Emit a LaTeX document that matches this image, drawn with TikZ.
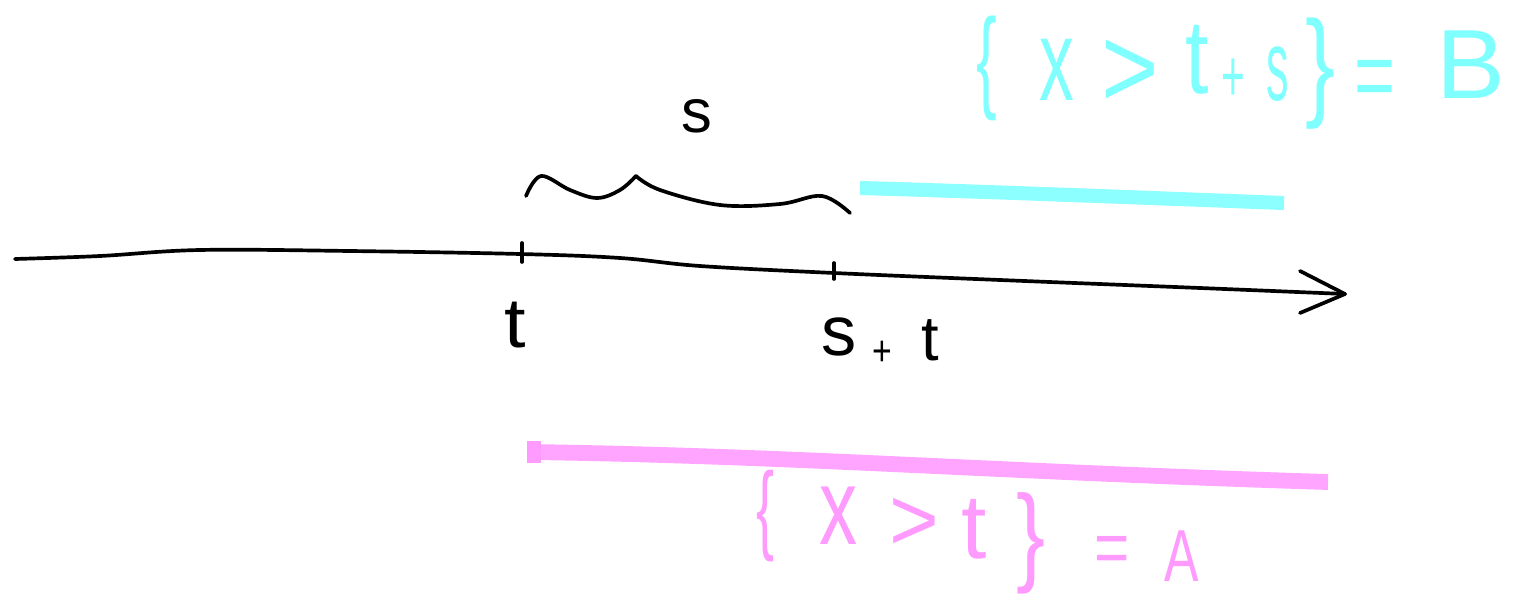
\documentclass[tikz,border=0pt]{standalone}
\usepackage{fontspec}
\setmainfont{Liberation Sans}
\definecolor{hcyan}{RGB}{128,255,255}
\definecolor{hmag}{RGB}{255,155,255}
\newcommand{\hwg}[3]{{\fontspec{Liberation Sans}[FakeStretch=#1]\fontsize{#2}{#2}\selectfont #3}}
\tikzset{
  pen/.style={line width=2.1pt, line cap=round, line join=round, black},
  glyph/.style={inner sep=0pt, anchor=center},
  cyantext/.style={glyph, text=hcyan},
  magtext/.style={glyph, text=hmag},
  blacktext/.style={glyph, text=black},
  hilite/.style={line width=#1, line cap=butt, opacity=0.9}
}
\begin{document}
\begin{tikzpicture}[x=0.02cm, y=-0.02cm]
\useasboundingbox (0,0) rectangle (1519,598);
% highlight bars
\draw[hilite=9pt, hmag] (530,452) .. controls (800,456) and (1000,472) .. (1328,482);
\fill[hmag] (527,441) rectangle (541,463);
\draw[hilite=8pt, hcyan] (860,188) .. controls (1000,192) and (1150,198) .. (1284,203);
% axis
\coordinate (a0) at (15,259);
\coordinate (tipA) at (1345,294);
\draw[pen] plot[smooth, tension=0.6] coordinates {(15,259) (100,256) (200,250) (350,251) (520,254) (620,258) (700,266) (834,273) (1000,280) (1200,288) (1345,294)};
\coordinate (h1) at (1300,271);
\coordinate (h2) at (1300,313);
\draw[pen] (h1) -- (tipA) -- (h2);
% ticks
\coordinate (tk1a) at (522,243); \coordinate (tk1b) at (522,262);
\coordinate (tk2a) at (834,263); \coordinate (tk2b) at (834,279);
\draw[pen] (tk1a) -- (tk1b);
\draw[pen] (tk2a) -- (tk2b);
% brace
\draw[pen] plot[smooth, tension=0.6] coordinates {(526,196) (541,176) (570,190) (597,198) (620,190) (636,176)};
\draw[pen] plot[smooth, tension=0.6] coordinates {(636,176) (660,190) (720,205) (780,204) (822,196) (850,213)};
% black labels
\node[blacktext] (ls) at (697,116) {\hwg{1}{35pt}{s}};
\node[blacktext] (lt) at (515,325) {\hwg{1.1}{40pt}{t}};
\node[blacktext] (lst1) at (839,337) {\hwg{1}{40pt}{s}};
\node[blacktext] (lst2) at (882,353) {\hwg{0.8}{24pt}{+}};
\node[blacktext] (lst3) at (930,340) {\hwg{1}{36pt}{t}};
% cyan text
\node[cyantext] (c1) at (987,68) {\hwg{0.55}{64pt}{\{}};
\node[cyantext] (c2) at (1057,70) {\hwg{0.6}{66pt}{x}};
\node[cyantext] (c3) at (1130,74) {\hwg{0.85}{66pt}{>}};
\node[cyantext] (c4) at (1197,60) {\hwg{0.8}{60pt}{t}};
\node[cyantext] (c5) at (1233,80) {\hwg{0.55}{42pt}{+}};
\node[cyantext] (c6) at (1278,74) {\hwg{0.45}{57pt}{s}};
\node[cyantext] (c7) at (1320,74) {\hwg{0.75}{68pt}{\}}};
\node[cyantext] (c8) at (1375,85) {\hwg{0.7}{57pt}{=}};
\node[cyantext] (c9) at (1471,65) {\hwg{1.05}{56pt}{B}};
% magenta text
\node[magtext] (m1) at (766,516) {\hwg{0.55}{56pt}{\{}};
\node[magtext] (m2) at (839,516) {\hwg{0.7}{62pt}{x}};
\node[magtext] (m3) at (914,524) {\hwg{0.95}{51pt}{>}};
\node[magtext] (m4) at (974,529) {\hwg{1.0}{52pt}{t}};
\node[magtext] (m5) at (1031,543) {\hwg{0.8}{62pt}{\}}};
\node[magtext] (m6) at (1112,555) {\hwg{0.8}{43pt}{=}};
\node[magtext] (m7) at (1182,556) {\hwg{0.7}{42pt}{A}};
\end{tikzpicture}
\end{document}
